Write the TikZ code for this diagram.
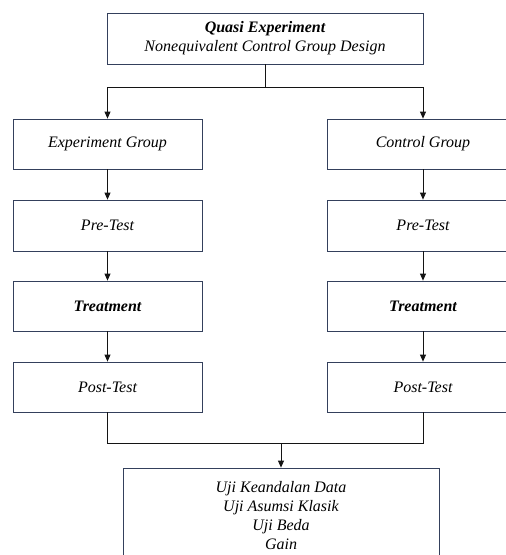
\documentclass[tikz,border=0pt]{standalone}
\usepackage{fontspec}
\setmainfont{Liberation Serif}
\usetikzlibrary{arrows.meta}
\definecolor{boxline}{RGB}{52,64,92}
\definecolor{conn}{RGB}{20,20,20}
\tikzset{
  stepbox/.style={draw=boxline, line width=0.8pt, fill=white, inner sep=0pt,
    minimum height=50pt, align=center, font=\fontsize{16}{18.8}\selectfont\itshape},
  conline/.style={draw=conn, line width=0.8pt},
  arr/.style={conline, -{Triangle[length=7pt,width=6pt]}}
}
\begin{document}
\begin{tikzpicture}[x=1pt,y=-1pt]
\useasboundingbox (0,0) rectangle (506,555);
\clip (0,0) rectangle (506,555);
\node[stepbox, minimum width=316pt, minimum height=51pt] (top) at (265,38.5)
  {\textbf{Quasi Experiment}\\Nonequivalent Control Group Design};
\node[stepbox, minimum width=189pt] (eg) at (107.5,144) {Experiment Group};
\node[stepbox, minimum width=192pt] (cg) at (423,144) {Control Group};
\node[stepbox, minimum width=189pt, minimum height=51pt] (pre1) at (107.5,225.5) {Pre-Test};
\node[stepbox, minimum width=192pt, minimum height=51pt] (pre2) at (423,225.5) {Pre-Test};
\node[stepbox, minimum width=189pt] (tr1) at (107.5,306) {\textbf{Treatment}};
\node[stepbox, minimum width=192pt] (tr2) at (423,306) {\textbf{Treatment}};
\node[stepbox, minimum width=189pt] (post1) at (107.5,387) {Post-Test};
\node[stepbox, minimum width=192pt] (post2) at (423,387) {Post-Test};
\node[stepbox, minimum width=316pt, minimum height=95pt] (final) at (281,515.5)
  {Uji Keandalan Data\\Uji Asumsi Klasik\\Uji Beda\\Gain};
\coordinate (j1) at (265,87);
\coordinate (j2) at (281,443);
\draw[conline] (top.south) -- (j1);
\draw[arr] (j1) -| (eg.north);
\draw[arr] (j1) -| (cg.north);
\draw[arr] (eg.south) -- (pre1.north);
\draw[arr] (cg.south) -- (pre2.north);
\draw[arr] (pre1.south) -- (tr1.north);
\draw[arr] (pre2.south) -- (tr2.north);
\draw[arr] (tr1.south) -- (post1.north);
\draw[arr] (tr2.south) -- (post2.north);
\draw[conline] (post1.south) |- (j2);
\draw[conline] (post2.south) |- (j2);
\draw[arr] (j2) -- (final.north);
\end{tikzpicture}
\end{document}
